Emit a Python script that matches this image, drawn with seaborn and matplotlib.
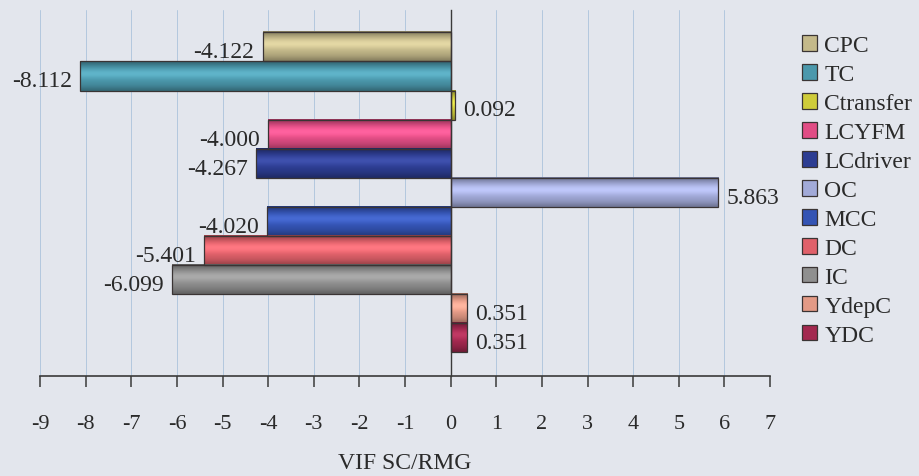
import numpy as np
import pandas as pd
import matplotlib
matplotlib.use("Agg")
import matplotlib.pyplot as plt
import seaborn as sns

categories = ["CPC", "TC", "Ctransfer", "LCYFM", "LCdriver", "OC",
              "MCC", "DC", "IC", "YdepC", "YDC"]
values = [-4.122, -8.112, 0.092, -4.000, -4.267, 5.863,
          -4.020, -5.401, -6.099, 0.351, 0.351]
colors = ["#c4b98a", "#4b98ac", "#cfcc3a", "#e24d85", "#2d3d92", "#a2aad8",
          "#3454b4", "#e0616a", "#8f8f8f", "#e39a86", "#a3284f"]
xticks = list(range(-9, 8))

df = pd.DataFrame({"category": categories, "value": values})

sns.set_theme(style="white")
plt.rcParams["font.family"] = ["Liberation Serif", "DejaVu Serif"]
bg = "#e3e6ed"

fig = plt.figure(figsize=(9.19, 4.77), dpi=100, facecolor=bg)
ax = fig.add_axes([0.0435, 0.2096, 0.7945, 0.7674])
ax.set_facecolor(bg)

sns.barplot(data=df, x="value", y="category", hue="category", orient="h",
            dodge=False, palette=colors, saturation=1, width=1.0,
            edgecolor="#3a3434", linewidth=0.9, legend=True, ax=ax)

# soft cylinder-like shading across each bar
profile = np.array([0.68, 0.82, 0.95, 1.04, 1.09, 1.10, 1.06, 1.0, 0.95,
                    0.9, 0.82, 0.7])
bars = [p for p in ax.patches if np.isfinite(p.get_width()) and p.get_width() != 0]
for p in bars:
    base = np.array(p.get_facecolor()[:3])
    img = np.clip(base[None, :] * profile[:, None], 0, 1)
    hl = np.exp(-((np.arange(len(profile)) - 4.5) / 1.6) ** 2)[:, None] * 0.06
    img = np.clip(img + hl, 0, 1)[:, None, :]
    x0, y0 = p.get_x(), p.get_y()
    x1, y1 = x0 + p.get_width(), y0 + p.get_height()
    ax.imshow(img, extent=(min(x0, x1), max(x0, x1), max(y0, y1), min(y0, y1)),
              aspect="auto", interpolation="bicubic", zorder=2)
    p.set_facecolor("none")
    p.set_zorder(3)

# value labels at the bar ends, sitting slightly low
for cont in ax.containers:
    for ann in ax.bar_label(cont, fmt="%.3f", padding=6, fontsize=17,
                            color="#2a2a2a"):
        dx, dy = ann.xyann
        ann.xyann = (dx, dy - 3.5)

ax.set_xlim(-9, 7)
ax.set_ylim(11.31, -1.27)
ax.set_xticks(xticks)
ax.set_xticklabels([str(t) for t in xticks])
ax.set_yticks([])
ax.set_ylabel("")
ax.set_xlabel("VIF SC/RMG", fontsize=17, color="#2a2a2a", labelpad=14)

ax.set_axisbelow(True)
ax.grid(axis="x", color="#b3c8de", linewidth=0.7)
ax.grid(axis="y", visible=False)
for side in ["top", "right"]:
    ax.spines[side].set_visible(False)
ax.spines["left"].set_position(("data", 0))
ax.spines["left"].set_color("#3a3a3a")
ax.spines["left"].set_linewidth(1.0)
ax.spines["bottom"].set_color("#3a3a3a")
ax.spines["bottom"].set_linewidth(1.2)
ax.tick_params(axis="x", direction="out", length=8, width=1.1, color="#3a3a3a",
               pad=19, labelsize=16, labelcolor="#2a2a2a", bottom=True)

handles, labels = ax.get_legend_handles_labels()
ax.legend(handles, labels, loc="upper left", bbox_to_anchor=(802 / 919, 1 - 36 / 477),
          bbox_transform=fig.transFigure, frameon=False, fontsize=17,
          handlelength=0.65, handleheight=0.65, handletextpad=0.3,
          labelspacing=0.33, borderpad=0, borderaxespad=0,
          labelcolor="#2a2a2a")

fig.savefig("out.png", dpi=100, facecolor=bg)
